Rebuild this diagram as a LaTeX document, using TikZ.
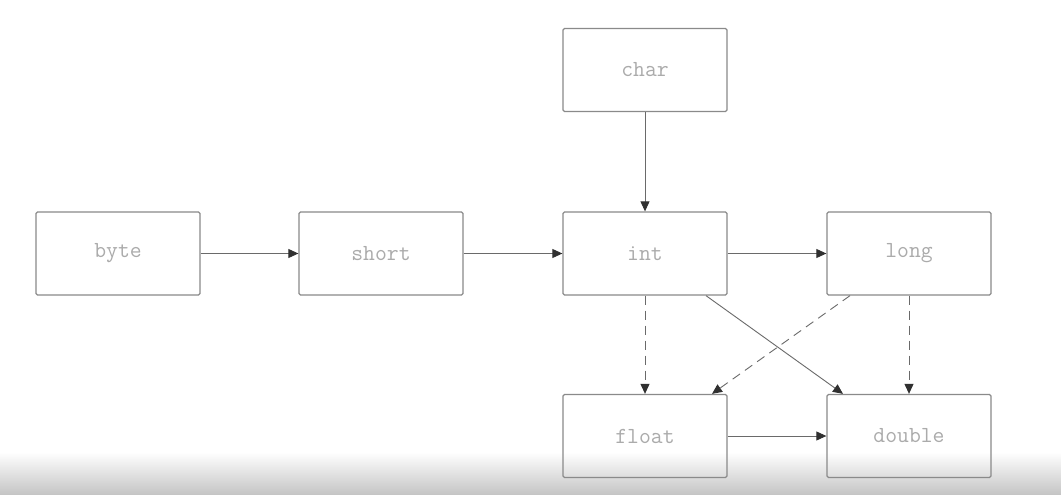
\documentclass[tikz,border=0pt]{standalone}
\usetikzlibrary{arrows.meta}
\definecolor{boxline}{HTML}{8A8A8A}
\definecolor{txt}{HTML}{ABABAB}
\definecolor{conn}{HTML}{6A6A6A}
\definecolor{tipc}{HTML}{303030}
\definecolor{barbot}{HTML}{C4C4C4}
\tikzset{
  tbox/.style={draw=boxline, line width=1.3pt, rounded corners=1.5pt, minimum width=164pt, minimum height=83pt, inner sep=0pt, font=\ttfamily\fontsize{23}{23}\selectfont, text=txt},
  conarrow/.style={draw=conn, line width=0.9pt, -{Triangle[length=10pt,width=9pt,fill=tipc,color=tipc]}},
  dasharrow/.style={conarrow, dash pattern=on 9pt off 6pt},
}
\begin{document}
\begin{tikzpicture}[x=1pt,y=-1pt]
\useasboundingbox (0,0) rectangle (1061,495);
\fill[white] (0,0) rectangle (1061,495);
\shade[top color=white, bottom color=barbot] (0,452) rectangle (1061,495);
\node[tbox] (byte) at (118,253.5) {byte};
\node[tbox] (short) at (381,253.5) {short};
\node[tbox] (int) at (645,253.5) {int};
\node[tbox] (long) at (909,253.5) {long};
\node[tbox] (char) at (645,70) {char};
\node[tbox] (float) at (645,436) {float};
\node[tbox] (double) at (909,436) {double};
\draw[conarrow] (byte) -- (short);
\draw[conarrow] (short) -- (int);
\draw[conarrow] (int) -- (long);
\draw[conarrow] (char) -- (int);
\draw[conarrow] (float) -- (double);
\draw[dasharrow] (int) -- (float);
\draw[dasharrow] (long) -- (double);
\draw[conarrow] ([xshift=61pt]int.south) -- ([xshift=-66pt]double.north);
\draw[dasharrow] ([xshift=-59pt]long.south) -- ([xshift=67pt]float.north);
\end{tikzpicture}
\end{document}
